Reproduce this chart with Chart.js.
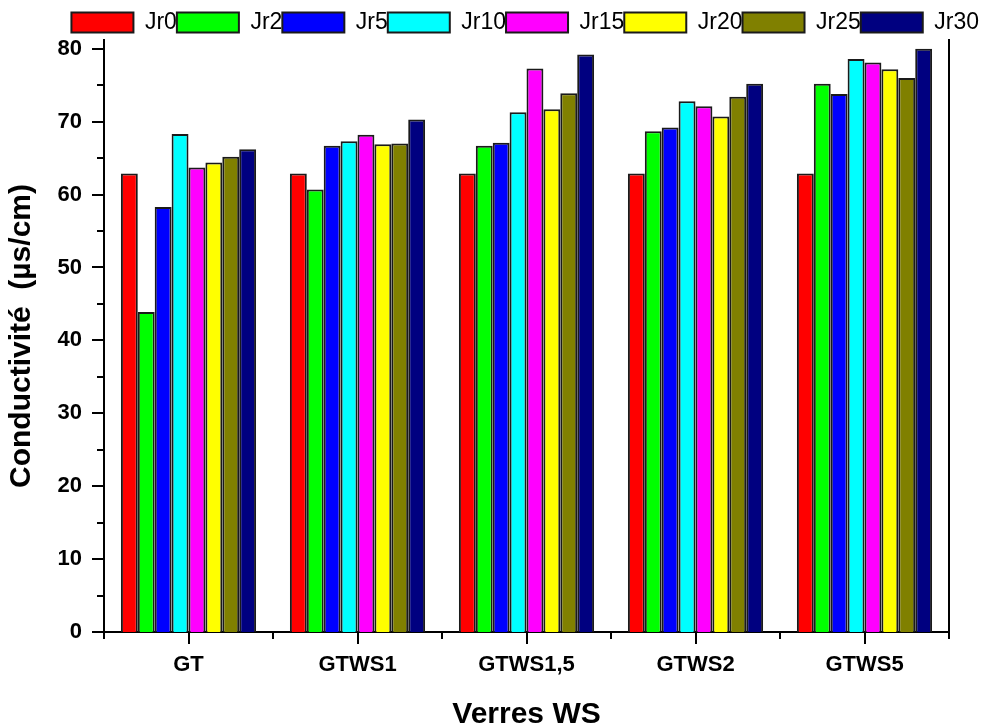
<!DOCTYPE html>
<html>
<head>
<meta charset="utf-8">
<script src="https://cdn.jsdelivr.net/npm/chart.js@4/dist/chart.umd.min.js"></script>
<style>
  html, body { margin: 0; padding: 0; background: #fff; }
  #wrap { width: 985px; height: 727px; position: relative; }
</style>
</head>
<body>
<div id="wrap"><canvas id="c" width="985" height="727"></canvas></div>
<script>
const categories = ["GT", "GTWS1", "GTWS1,5", "GTWS2", "GTWS5"];
const seriesNames = ["Jr0", "Jr2", "Jr5", "Jr10", "Jr15", "Jr20", "Jr25", "Jr30"];
const jr0  = [62.9, 62.9, 62.9, 62.9, 62.9];
const jr2  = [43.9, 60.7, 66.7, 68.7, 75.2];
const jr5  = [58.3, 66.7, 67.1, 69.2, 73.8];
const jr10 = [68.3, 67.3, 71.3, 72.8, 78.6];
const jr15 = [63.7, 68.2, 77.3, 72.1, 78.1];
const jr20 = [64.4, 66.9, 71.7, 70.7, 77.2];
const jr25 = [65.2, 67.0, 73.9, 73.4, 76.0];
const jr30 = [66.2, 70.3, 79.2, 75.2, 80.0];
const seriesValues = [jr0, jr2, jr5, jr10, jr15, jr20, jr25, jr30];
const seriesColors = ["#FF0000", "#00FF00", "#0000FF", "#00FFFF", "#FF00FF", "#FFFF00", "#808000", "#000080"];
const yTickValues = [0, 10, 20, 30, 40, 50, 60, 70, 80];

const FONT = "'Liberation Sans', Arial, Helvetica, sans-serif";

const tickPlugin = {
  id: 'originTicks',
  afterDraw(chart) {
    const ctx = chart.ctx;
    const x = chart.scales.x, y = chart.scales.y;
    const area = chart.chartArea;
    ctx.save();
    ctx.strokeStyle = '#000';
    ctx.lineWidth = 2;
    ctx.beginPath();
    for (let v = 0; v <= 80; v += 5) {
      const py = Math.round(y.getPixelForValue(v));
      const len = (v % 10 === 0) ? 12 : 7;
      ctx.moveTo(area.left, py);
      ctx.lineTo(area.left - len, py);
    }
    for (let i = 0; i < categories.length; i++) {
      const px = Math.round(x.getPixelForValue(i));
      ctx.moveTo(px, area.bottom);
      ctx.lineTo(px, area.bottom + 12);
    }
    for (let i = 0; i <= categories.length; i++) {
      const px = Math.round(x.getPixelForValue(i - 0.5));
      ctx.moveTo(px, area.bottom);
      ctx.lineTo(px, area.bottom + 7);
    }
    ctx.stroke();
    ctx.restore();
  }
};

new Chart(document.getElementById('c'), {
  type: 'bar',
  data: {
    labels: categories,
    datasets: seriesNames.map((n, i) => ({
      label: n,
      data: seriesValues[i],
      backgroundColor: seriesColors[i],
      borderColor: '#1a1a1a',
      borderWidth: 2,
      categoryPercentage: 0.8,
      barPercentage: 1.0
    }))
  },
  options: {
    responsive: false,
    animation: false,
    devicePixelRatio: 1,
    layout: { padding: { top: 11, right: 6, left: 0, bottom: 0 } },
    plugins: {
      tooltip: { enabled: false },
      legend: {
        position: 'top',
        align: 'end',
        maxHeight: 29,
        labels: {
          boxWidth: 62,
          boxHeight: 20,
          padding: 0,
          color: '#000',
          font: { family: FONT, size: 23 }
        }
      }
    },
    scales: {
      x: {
        type: 'category',
        offset: true,
        grid: { display: false, drawTicks: false },
        border: { display: true, color: '#000', width: 2 },
        ticks: {
          color: '#000',
          padding: 20,
          maxRotation: 0,
          font: { family: FONT, size: 22, weight: 'bold' }
        },
        title: {
          display: true,
          text: 'Verres WS',
          color: '#000',
          font: { family: FONT, size: 30, weight: 'bold', lineHeight: 0.8 },
          padding: { top: 0, bottom: 0 }
        },
        afterFit(s) { s.height = 95; }
      },
      y: {
        min: 0,
        max: 81.2,
        position: 'left',
        grid: { display: false, drawTicks: false },
        border: { display: true, color: '#000', width: 2 },
        afterBuildTicks(s) { s.ticks = yTickValues.map(v => ({ value: v })); },
        ticks: {
          color: '#000',
          padding: 22,
          font: { family: FONT, size: 22, weight: 'bold' }
        },
        title: {
          display: true,
          text: 'Conductivité  (µs/cm)',
          color: '#000',
          font: { family: FONT, size: 30, weight: 'bold', lineHeight: 1.2 },
          padding: { top: 4, bottom: 0 }
        },
        afterFit(s) { s.width = 104; }
      },
      y2: {
        min: 0,
        max: 81.2,
        position: 'right',
        grid: { display: false, drawTicks: false },
        border: { display: true, color: '#000', width: 2 },
        ticks: { display: false },
        afterFit(s) { s.width = 30; }
      }
    }
  },
  plugins: [tickPlugin]
});
</script>
</body>
</html>
